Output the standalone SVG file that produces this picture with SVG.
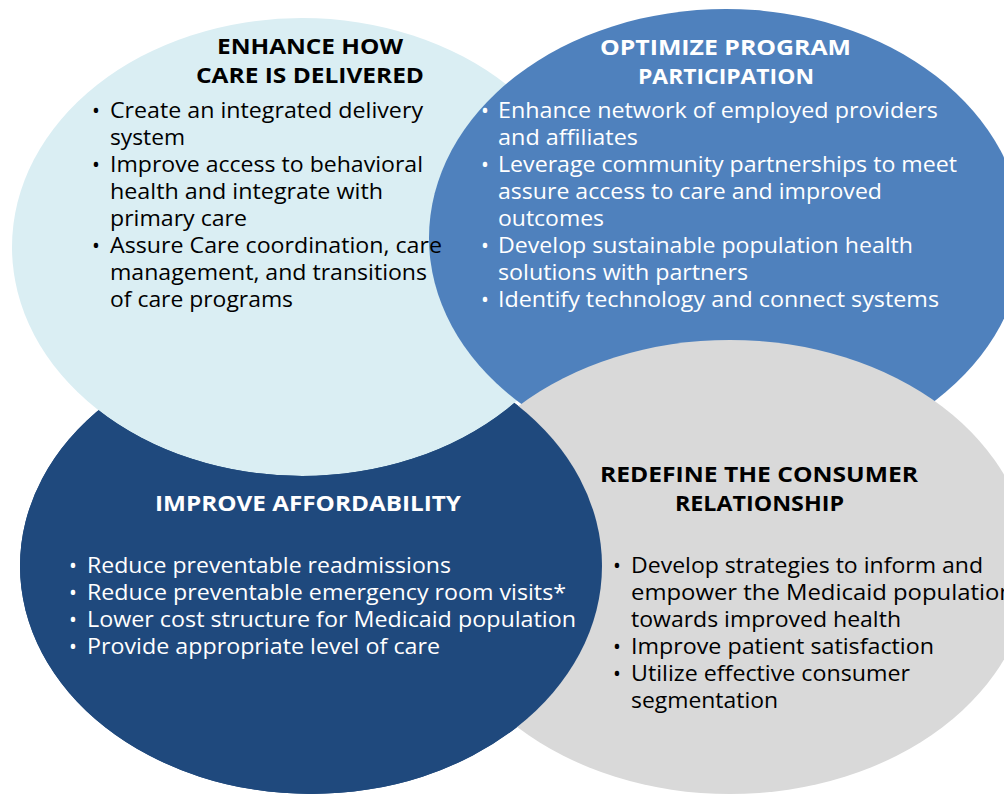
<svg xmlns="http://www.w3.org/2000/svg" width="1004" height="794" viewBox="0 0 1004 794">
  <style>
    text { font-family: "Open Sans", "Liberation Sans", sans-serif; }
    .title { font-size: 22px; font-weight: bold; }
    .body { font-size: 21px; }
    .dark { fill: #000000; }
    .light { fill: #FFFFFF; }
  </style>
  <defs>
    <ellipse id="shape-enhance" cx="302" cy="247" rx="290" ry="229"/>
    <ellipse id="shape-optimize" cx="726" cy="238" rx="297" ry="229"/>
    <ellipse id="shape-afford" cx="311" cy="566" rx="291" ry="228"/>
    <ellipse id="shape-consumer" cx="730" cy="567" rx="300" ry="227"/>
    <mask id="afford-over-mask" maskUnits="userSpaceOnUse" x="0" y="0" width="1004" height="794">
      <rect x="0" y="0" width="1004" height="794" fill="#fff"/>
      <use href="#shape-enhance" fill="#000"/>
    </mask>
  </defs>
  <rect x="0" y="0" width="1004" height="794" fill="#FFFFFF"/>

  <g id="shapes">
    <g id="improve-affordability"><use href="#shape-afford" fill="#1F497D"/></g>
    <g id="enhance-care"><use href="#shape-enhance" fill="#DAEEF3"/></g>
    <g id="optimize-program"><use href="#shape-optimize" fill="#4F81BD"/></g>
    <g id="redefine-consumer"><use href="#shape-consumer" fill="#D9D9D9"/></g>
    <g id="improve-affordability-overlap"><use href="#shape-afford" fill="#1F497D" mask="url(#afford-over-mask)"/></g>
  </g>

  <g id="enhance-care-label" class="dark">
    <text class="title" x="217" y="54" textLength="186" lengthAdjust="spacingAndGlyphs">ENHANCE HOW</text>
    <text class="title" x="196" y="83" textLength="228" lengthAdjust="spacingAndGlyphs">CARE IS DELIVERED</text>
    <text class="body" x="92" y="118">•</text>
    <text class="body" x="92" y="172">•</text>
    <text class="body" x="92" y="253">•</text>
    <text class="body" x="110" y="118" textLength="313" lengthAdjust="spacingAndGlyphs">Create an integrated delivery</text>
    <text class="body" x="110" y="145" textLength="75" lengthAdjust="spacingAndGlyphs">system</text>
    <text class="body" x="110" y="172" textLength="313" lengthAdjust="spacingAndGlyphs">Improve access to behavioral</text>
    <text class="body" x="110" y="199" textLength="273" lengthAdjust="spacingAndGlyphs">health and integrate with</text>
    <text class="body" x="110" y="226" textLength="137" lengthAdjust="spacingAndGlyphs">primary care</text>
    <text class="body" x="110" y="253" textLength="332" lengthAdjust="spacingAndGlyphs">Assure Care coordination, care</text>
    <text class="body" x="110" y="280" textLength="317" lengthAdjust="spacingAndGlyphs">management, and transitions</text>
    <text class="body" x="110" y="307" textLength="183" lengthAdjust="spacingAndGlyphs">of care programs</text>
  </g>

  <g id="optimize-program-label" class="light">
    <text class="title" x="600" y="55" textLength="251" lengthAdjust="spacingAndGlyphs">OPTIMIZE PROGRAM</text>
    <text class="title" x="638" y="84" textLength="176" lengthAdjust="spacingAndGlyphs">PARTICIPATION</text>
    <text class="body" x="481" y="118">•</text>
    <text class="body" x="481" y="172">•</text>
    <text class="body" x="481" y="253">•</text>
    <text class="body" x="481" y="307">•</text>
    <text class="body" x="498" y="118" textLength="440" lengthAdjust="spacingAndGlyphs">Enhance network of employed providers</text>
    <text class="body" x="498" y="145" textLength="140" lengthAdjust="spacingAndGlyphs">and affiliates</text>
    <text class="body" x="498" y="172" textLength="459" lengthAdjust="spacingAndGlyphs">Leverage community partnerships to meet</text>
    <text class="body" x="498" y="199" textLength="384" lengthAdjust="spacingAndGlyphs">assure access to care and improved</text>
    <text class="body" x="498" y="226" textLength="106" lengthAdjust="spacingAndGlyphs">outcomes</text>
    <text class="body" x="498" y="253" textLength="415" lengthAdjust="spacingAndGlyphs">Develop sustainable population health</text>
    <text class="body" x="498" y="280" textLength="250" lengthAdjust="spacingAndGlyphs">solutions with partners</text>
    <text class="body" x="498" y="307" textLength="441" lengthAdjust="spacingAndGlyphs">Identify technology and connect systems</text>
  </g>

  <g id="improve-affordability-label" class="light">
    <text class="title" x="155" y="511" textLength="306" lengthAdjust="spacingAndGlyphs">IMPROVE AFFORDABILITY</text>
    <text class="body" x="69" y="573">•</text>
    <text class="body" x="69" y="600">•</text>
    <text class="body" x="69" y="627">•</text>
    <text class="body" x="69" y="654">•</text>
    <text class="body" x="87" y="573" textLength="364" lengthAdjust="spacingAndGlyphs">Reduce preventable readmissions</text>
    <text class="body" x="87" y="600" textLength="479" lengthAdjust="spacingAndGlyphs">Reduce preventable emergency room visits*</text>
    <text class="body" x="87" y="627" textLength="489" lengthAdjust="spacingAndGlyphs">Lower cost structure for Medicaid population</text>
    <text class="body" x="87" y="654" textLength="353" lengthAdjust="spacingAndGlyphs">Provide appropriate level of care</text>
  </g>

  <g id="redefine-consumer-label" class="dark">
    <text class="title" x="600" y="482" textLength="318" lengthAdjust="spacingAndGlyphs">REDEFINE THE CONSUMER</text>
    <text class="title" x="675" y="511" textLength="169" lengthAdjust="spacingAndGlyphs">RELATIONSHIP</text>
    <text class="body" x="613" y="573">•</text>
    <text class="body" x="613" y="654">•</text>
    <text class="body" x="613" y="681">•</text>
    <text class="body" x="631" y="573" textLength="352" lengthAdjust="spacingAndGlyphs">Develop strategies to inform and</text>
    <text class="body" x="631" y="600" textLength="383" lengthAdjust="spacingAndGlyphs">empower the Medicaid population</text>
    <text class="body" x="631" y="627" textLength="270" lengthAdjust="spacingAndGlyphs">towards improved health</text>
    <text class="body" x="631" y="654" textLength="303" lengthAdjust="spacingAndGlyphs">Improve patient satisfaction</text>
    <text class="body" x="631" y="681" textLength="279" lengthAdjust="spacingAndGlyphs">Utilize effective consumer</text>
    <text class="body" x="631" y="708" textLength="147" lengthAdjust="spacingAndGlyphs">segmentation</text>
  </g>
</svg>
